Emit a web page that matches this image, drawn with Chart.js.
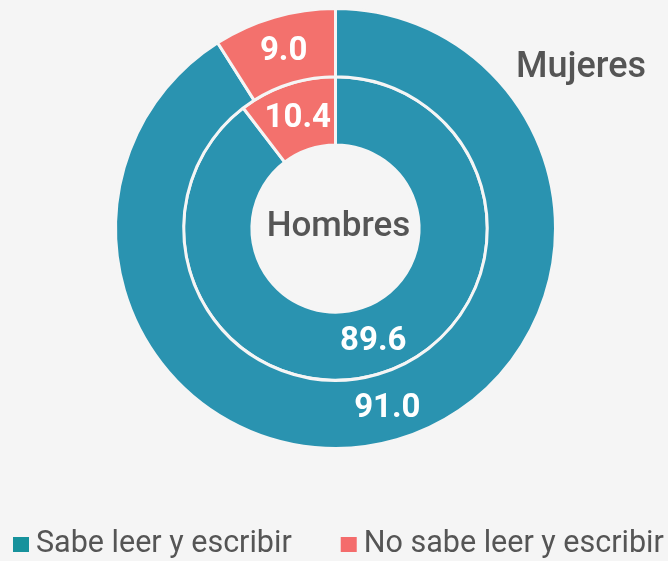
<!DOCTYPE html>
<html>
<head>
<meta charset="utf-8">
<script src="https://cdn.jsdelivr.net/npm/chart.js@4.4.0/dist/chart.umd.min.js"></script>
<style>
  html, body { margin: 0; padding: 0; background: #f5f5f5; }
  #wrap { width: 668px; height: 561px; }
</style>
</head>
<body>
<div id="wrap"><canvas id="myChart" width="668" height="561"></canvas></div>
<script>
const categories = ["Sabe leer y escribir", "No sabe leer y escribir"];
const mujeres = [91.0, 9.0];
const hombres = [89.6, 10.4];
const ringNames = ["Mujeres", "Hombres"];
const colors = ["#2a93b0", "#f3716d"];
const legendColors = ["#17929c", "#f46c6c"];
const TEXT_COLOR = "#555555";

const barCanvas = document.getElementById("myChart");

// values on the arcs
const valueLabels = {
  id: "valueLabels",
  afterDatasetsDraw(chart) {
    const ctx = chart.ctx;
    ctx.save();
    ctx.fillStyle = "#ffffff";
    ctx.font = "bold 33px Roboto";
    ctx.textAlign = "center";
    ctx.textBaseline = "middle";
    chart.data.datasets.forEach((ds, di) => {
      chart.getDatasetMeta(di).data.forEach((arc, i) => {
        const p = arc.tooltipPosition();
        ctx.fillText(ds.data[i].toFixed(1), p.x, p.y + 2);
      });
    });
    ctx.restore();
  }
};

// ring names and legend
const extraText = {
  id: "extraText",
  afterDraw(chart) {
    const ctx = chart.ctx;
    const area = chart.chartArea;
    const cx = (area.left + area.right) / 2;
    const cy = (area.top + area.bottom) / 2;
    ctx.save();
    ctx.fillStyle = TEXT_COLOR;
    ctx.font = "500 35px Roboto";
    ctx.textAlign = "center";
    ctx.textBaseline = "alphabetic";
    ctx.fillText(ringNames[1], cx + 3, cy + 7);
    ctx.font = "500 36px Roboto";
    ctx.fillText(ringNames[0], 581, 77);

    // legend
    ctx.font = "30.5px Roboto";
    ctx.textAlign = "left";
    ctx.textBaseline = "middle";
    let x = 13;
    const y = 544;
    categories.forEach((c, i) => {
      ctx.fillStyle = legendColors[i];
      ctx.fillRect(x, y - 7, 16, 15);
      ctx.fillStyle = TEXT_COLOR;
      ctx.fillText(c, x + 23, y);
      x += 23 + ctx.measureText(c).width + 49;
    });
    ctx.restore();
  }
};

const chart = new Chart(barCanvas, {
  type: "doughnut",
  data: {
    labels: categories,
    datasets: [{
      label: ringNames[0],
      data: mujeres,
      backgroundColor: colors,
      borderColor: "#f5f5f5",
      borderWidth: 3
    }, {
      label: ringNames[1],
      data: hombres,
      backgroundColor: colors,
      borderColor: "#f5f5f5",
      borderWidth: 3
    }]
  },
  options: {
    responsive: false,
    animation: false,
    cutout: "38%",
    layout: {
      padding: { top: 7, bottom: 111, left: 114, right: 111 }
    },
    plugins: {
      legend: { display: false },
      tooltip: { enabled: false }
    }
  },
  plugins: [valueLabels, extraText]
});
</script>
</body>
</html>
